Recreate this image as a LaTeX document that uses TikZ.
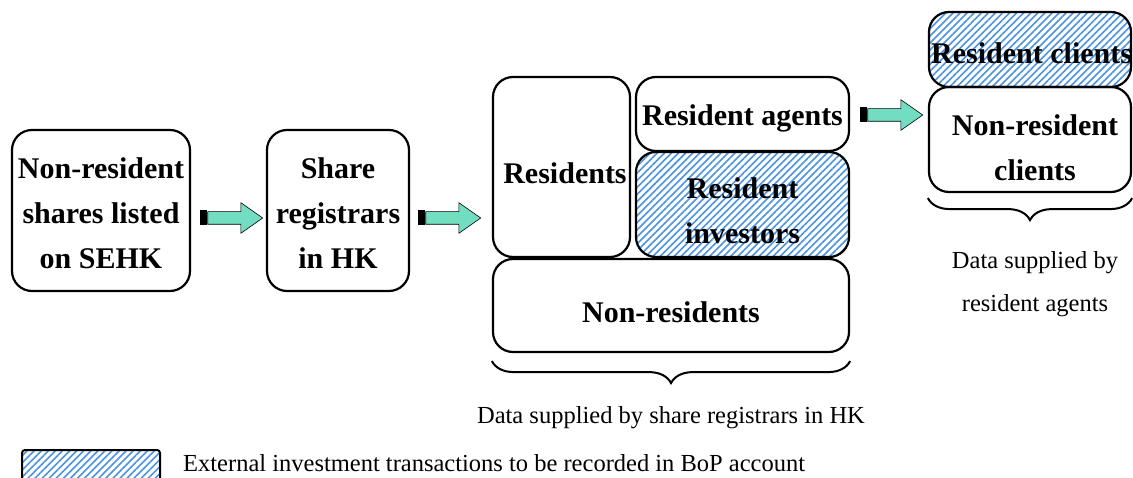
\documentclass[tikz,border=0pt]{standalone}
\usepackage{fontspec}
\setmainfont{Liberation Serif}
\usetikzlibrary{shapes.arrows,patterns.meta,decorations.pathreplacing}
\definecolor{hatchblue}{HTML}{4A92E2}
\definecolor{arrteal}{HTML}{72DDC0}
\tikzset{
 box/.style={draw, line width=2.2pt, rounded corners=20pt, inner sep=0pt},
 btext/.style={align=center, font=\bfseries\fontsize{30}{45}\selectfont, inner sep=0pt},
 hatch/.style={pattern={Lines[angle=45,distance=5pt,line width=1.6pt]}, pattern color=hatchblue},
 blockarrow/.style={single arrow, draw=black, line width=0.6pt, fill=arrteal,
   minimum height=55pt, minimum width=30pt, single arrow head extend=9pt,
   single arrow tip angle=70, inner xsep=0pt, inner ysep=6pt, anchor=tail},
 tailbar/.style={fill=black, minimum width=7pt, minimum height=15pt, inner sep=0pt, anchor=west},
 brc/.style={decorate, decoration={brace, amplitude=22pt, mirror}, line width=2pt},
 lbl/.style={font=\fontsize{24.5}{43}\selectfont, align=center, inner sep=0pt}
}
\begin{document}
\begin{tikzpicture}[x=1pt,y=-1pt]
\useasboundingbox (0,0) rectangle (1133,478);
\clip (0,0) rectangle (1133,478);
% main boxes
\node[box, minimum width=178pt, minimum height=161pt] (src) at (101,210.5) {};
\node[btext] (srcT) at ([yshift=-3pt]src.center) {Non-resident\\shares listed\\on SEHK};
\node[box, minimum width=142pt, minimum height=161pt] (reg) at (338,210.5) {};
\node[btext] (regT) at ([yshift=-3pt]reg.center) {Share\\registrars\\in HK};
\node[box, minimum width=137pt, minimum height=180pt] (res) at (561.5,167) {};
\node[btext] (resT) at ([xshift=3.5pt,yshift=-6pt]res.center) {Residents};
\node[box, minimum width=213pt, minimum height=74pt] (agents) at (742.5,114) {};
\node[btext] (agentsT) at ([yshift=-4pt]agents.center) {Resident agents};
\node[box, hatch, minimum width=213pt, minimum height=105pt] (inv) at (742.5,204.5) {};
\node[btext] (invT) at ([yshift=-6pt]inv.center) {Resident\\investors};
\node[box, minimum width=356pt, minimum height=93pt] (nonres) at (671,305.5) {};
\node[btext] (nonresT) at ([yshift=-7pt]nonres.center) {Non-residents};
\node[box, hatch, minimum width=202pt, minimum height=75pt] (clients) at (1030,49.5) {};
\node[btext, anchor=west] (clientsT) at (931,53) {Resident clients};
\node[box, minimum width=202pt, minimum height=105pt] (nrclients) at (1030,139.5) {};
\node[btext] (nrclientsT) at ([xshift=5pt,yshift=-8pt]nrclients.center) {Non-resident\\clients};
% block arrows
\node[tailbar] (t1) at (200,218) {};
\node[blockarrow] (a1) at (t1.east) {};
\node[tailbar] (t2) at (418,218) {};
\node[blockarrow] (a2) at (t2.east) {};
\node[tailbar] (t3) at (860,115) {};
\node[blockarrow] (a3) at (t3.east) {};
% braces
\draw[brc] ([yshift=-8pt]nonres.south west) -- coordinate[yshift=-30pt] (b1) ([yshift=-8pt]nonres.south east);
\node[lbl, anchor=north] (l1) at ([yshift=-15pt]b1) {Data supplied by share registrars in HK};
\draw[brc] ([yshift=-5pt]nrclients.south west) -- coordinate[yshift=-30pt] (b2) ([yshift=-5pt]nrclients.south east);
\node[lbl, anchor=north] (l2) at ([xshift=5pt,yshift=-23pt]b2) {Data supplied by\\resident agents};
% legend
\node[draw, line width=2pt, rounded corners=3pt, hatch, minimum width=138pt, minimum height=40pt, inner sep=0pt] (leg) at (91,470) {};
\node[lbl, anchor=west] (legtxt) at (183,463) {External investment transactions to be recorded in BoP account};
\end{tikzpicture}
\end{document}
